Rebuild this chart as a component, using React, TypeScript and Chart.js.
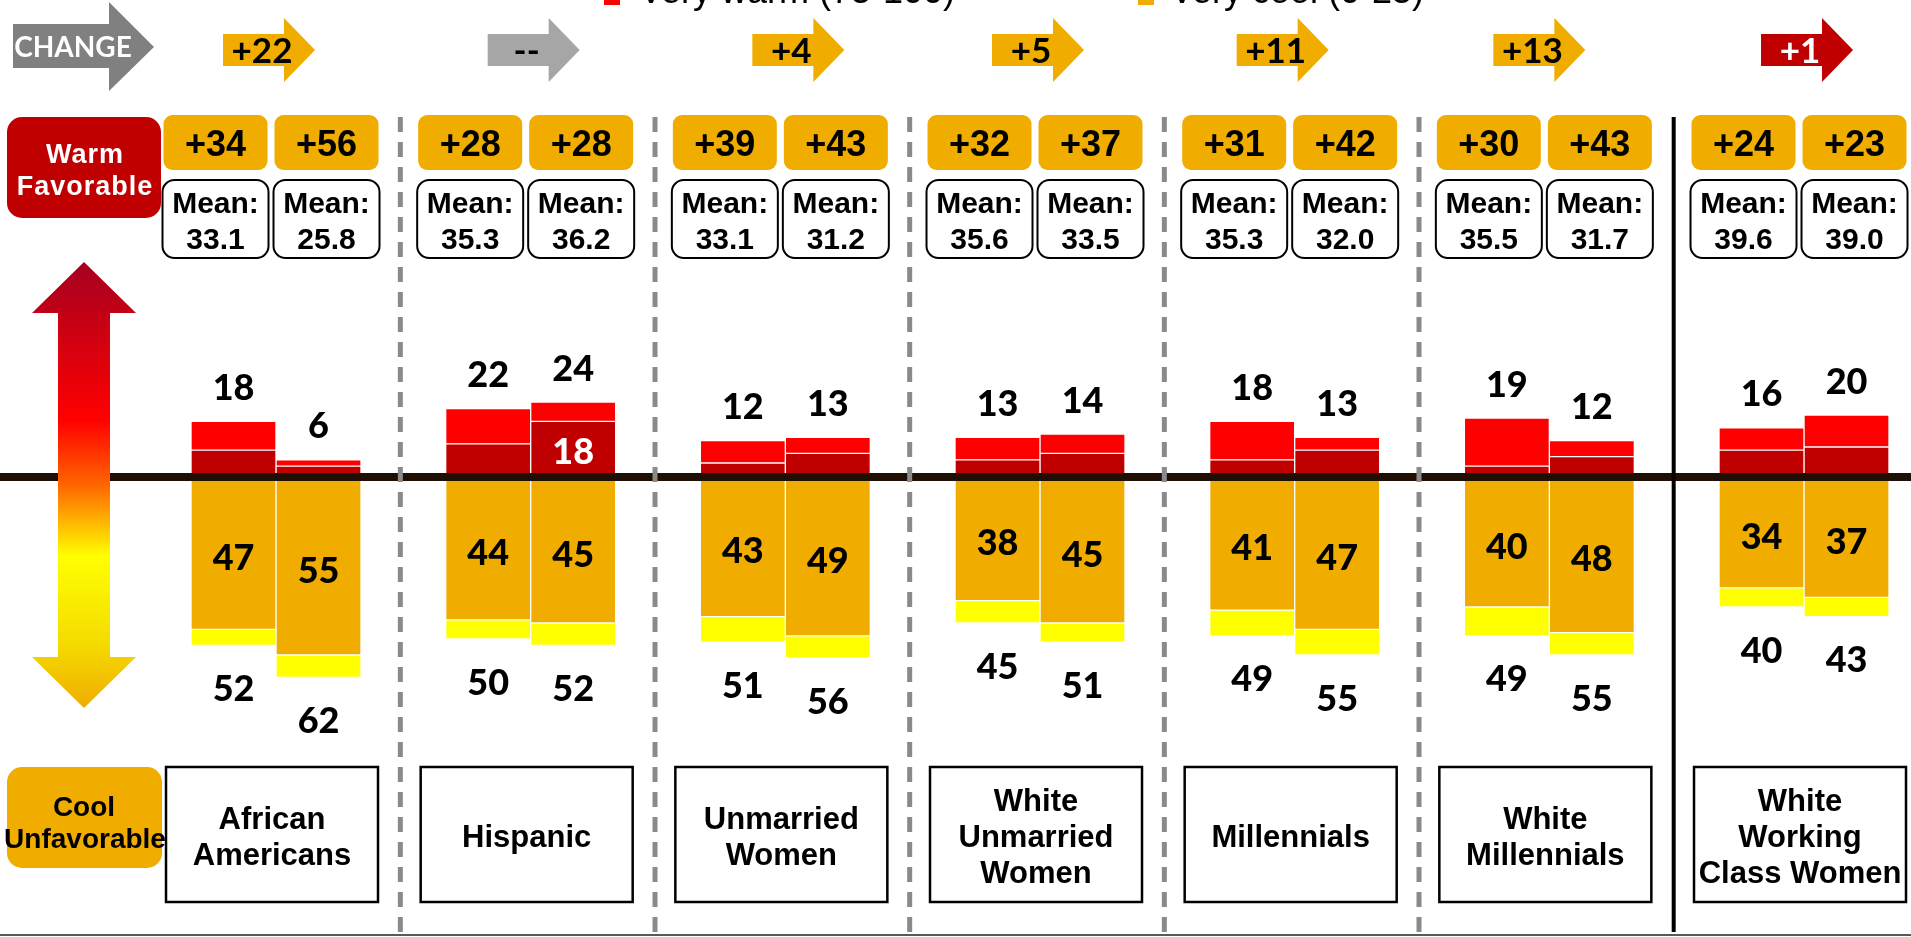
import React, { useEffect, useRef } from 'react';
import { Chart, registerables } from 'chart.js';

Chart.register(...registerables);

// ---------- data ----------
const groups = [
  'African\nAmericans',
  'Hispanic',
  'Unmarried\nWomen',
  'White\nUnmarried\nWomen',
  'Millennials',
  'White\nMillennials',
  'White\nWorking\nClass Women',
];
const changeLabels = ['+22', '--', '+4', '+5', '+11', '+13', '+1'];
const netA = ['+34', '+28', '+39', '+32', '+31', '+30', '+24'];
const netB = ['+56', '+28', '+43', '+37', '+42', '+43', '+23'];
const meanA = ['33.1', '35.3', '33.1', '35.6', '35.3', '35.5', '39.6'];
const meanB = ['25.8', '36.2', '31.2', '33.5', '32.0', '31.7', '39.0'];

const veryWarmA = [9, 11, 7, 7, 12, 15, 7];
const warmA = [9, 11, 5, 6, 6, 4, 9];
const coolA = [47, 44, 43, 38, 41, 40, 34];
const veryCoolA = [5, 6, 8, 7, 8, 9, 6];

const veryWarmB = [2, 6, 5, 6, 4, 5, 10];
const warmB = [4, 18, 8, 8, 9, 7, 10];
const coolB = [55, 45, 49, 45, 47, 48, 37];
const veryCoolB = [7, 7, 7, 6, 8, 7, 6];

const warmInsideLabelB = [false, true, false, false, false, false, false];
const legendLabels = ['Very warm (75-100)', 'Very cool (0-25)'];

// ---------- style ----------
const C_VERY_WARM = '#FF0000';
const C_WARM = '#C00000';
const C_COOL = '#F0AD00';
const C_VERY_COOL = '#FFFF00';
const changeColors = [C_COOL, '#A6A6A6', C_COOL, C_COOL, C_COOL, C_COOL, C_WARM];
const changeTextColors = ['#000', '#000', '#000', '#000', '#000', '#000', '#FFF'];
const changeArrowShift = [-53, -43, -33, -48, -58, -56, -43];

const ARIAL = '"Liberation Sans", Arial, sans-serif';
const LATO = 'Lato, "Open Sans", sans-serif';

function mk(label: string, vals: number[], sign: number, color: string, stack: string) {
  return {
    label,
    data: vals.map((v, i) => ({ x: i, y: sign * v })),
    backgroundColor: color,
    borderColor: '#FFFFFF',
    borderWidth: 1,
    borderSkipped: false,
    stack,
    barThickness: 85,
  };
}

function arrow(ctx: CanvasRenderingContext2D, x0: number, headX: number, tipX: number,
  bodyTop: number, bodyBot: number, headTop: number, headBot: number, tipY: number) {
  ctx.beginPath();
  ctx.moveTo(x0, bodyTop);
  ctx.lineTo(headX, bodyTop);
  ctx.lineTo(headX, headTop);
  ctx.lineTo(tipX, tipY);
  ctx.lineTo(headX, headBot);
  ctx.lineTo(headX, bodyBot);
  ctx.lineTo(x0, bodyBot);
  ctx.closePath();
  ctx.fill();
}

const decor = {
  id: 'decor',
  afterDraw(chart: any) {
    const ctx: CanvasRenderingContext2D = chart.ctx;
    const xs = chart.scales.x;
    const ys = chart.scales.y;
    const W = chart.width;
    const H = chart.height;
    const y0 = ys.getPixelForValue(0);
    const cx = (i: number) => xs.getPixelForValue(i);
    ctx.save();

    // zero line
    ctx.fillStyle = '#1F0E04';
    ctx.fillRect(0, y0 - 6, W, 8);

    // separators
    for (let i = 0; i < groups.length - 1; i++) {
      const x = (cx(i) + cx(i + 1)) / 2 - 3;
      ctx.beginPath();
      if (i === groups.length - 2) {
        ctx.setLineDash([]);
        ctx.strokeStyle = '#000000';
        ctx.lineWidth = 4;
        ctx.moveTo(x, 117);
        ctx.lineTo(x, 932);
      } else {
        ctx.setLineDash([15, 10]);
        ctx.strokeStyle = '#8A8A8A';
        ctx.lineWidth = 5;
        ctx.moveTo(x, 117);
        ctx.lineTo(x, H);
      }
      ctx.stroke();
    }
    ctx.setLineDash([]);

    // bottom rule
    ctx.fillStyle = '#595959';
    ctx.fillRect(0, H - 3, W, 2);

    // left gradient arrow
    const aTop = y0 - 217, aBot = y0 + 229;
    const g = ctx.createLinearGradient(0, aTop, 0, aBot);
    g.addColorStop(0, '#A50021');
    g.addColorStop(0.354, '#FF0000');
    g.addColorStop(0.5, '#FF6600');
    g.addColorStop(0.66, '#FFFF00');
    g.addColorStop(0.85, '#F5DC00');
    g.addColorStop(1, '#F0AD00');
    ctx.fillStyle = g;
    ctx.beginPath();
    ctx.moveTo(84, aTop);
    ctx.lineTo(136, aTop + 51);
    ctx.lineTo(110, aTop + 51);
    ctx.lineTo(110, aBot - 51);
    ctx.lineTo(136, aBot - 51);
    ctx.lineTo(84, aBot);
    ctx.lineTo(32, aBot - 51);
    ctx.lineTo(58, aBot - 51);
    ctx.lineTo(58, aTop + 51);
    ctx.lineTo(32, aTop + 51);
    ctx.closePath();
    ctx.fill();

    // Warm Favorable box
    ctx.fillStyle = C_WARM;
    ctx.beginPath();
    ctx.roundRect(7, 117, 154, 101, 15);
    ctx.fill();
    ctx.fillStyle = '#FFFFFF';
    ctx.font = `bold 27px ${ARIAL}`;
    ctx.textAlign = 'center';
    ctx.textBaseline = 'middle';
    (ctx as any).letterSpacing = '1px';
    ctx.fillText('Warm', 85, 156);
    ctx.fillText('Favorable', 85, 188);
    (ctx as any).letterSpacing = '0px';

    // Cool Unfavorable box
    ctx.fillStyle = C_COOL;
    ctx.beginPath();
    ctx.roundRect(7, 767, 155, 101, 15);
    ctx.fill();
    ctx.fillStyle = '#000000';
    ctx.font = `bold 28px ${ARIAL}`;
    ctx.fillText('Cool', 84, 808);
    ctx.fillText('Unfavorable', 85, 840);

    // CHANGE arrow
    ctx.fillStyle = '#808080';
    arrow(ctx, 13, 109, 154, 24, 68, 2, 91, 47);
    ctx.fillStyle = '#FFFFFF';
    ctx.font = `bold 28px ${LATO}`;
    ctx.fillText('CHANGE', 73, 48);

    // legend (cut at the top)
    ctx.font = `36px ${ARIAL}`;
    ctx.textAlign = 'left';
    ctx.textBaseline = 'alphabetic';
    ctx.fillStyle = C_VERY_WARM;
    ctx.fillRect(604, -12, 16, 17);
    ctx.fillStyle = '#000';
    ctx.fillText(legendLabels[0], 639, 3);
    ctx.fillStyle = C_COOL;
    ctx.fillRect(1138, -12, 16, 17);
    ctx.fillStyle = '#000';
    ctx.fillText(legendLabels[1], 1170, 3);

    ctx.textAlign = 'center';
    ctx.textBaseline = 'middle';

    for (let i = 0; i < groups.length; i++) {
      const c = cx(i);
      // change arrow
      const L = c + changeArrowShift[i];
      ctx.fillStyle = changeColors[i];
      arrow(ctx, L, L + 61, L + 92, 34, 66, 18, 82, 50);
      ctx.fillStyle = changeTextColors[i];
      ctx.font = `bold 35px ${LATO}`;
      ctx.fillText(changeLabels[i], L + 39, 52);

      // net pills and mean boxes
      const mid = c - 5;
      const centers = [mid - 55.5, mid + 55.5];
      const nets = [netA[i], netB[i]];
      const means = [meanA[i], meanB[i]];
      for (let k = 0; k < 2; k++) {
        ctx.fillStyle = C_COOL;
        ctx.beginPath();
        ctx.roundRect(centers[k] - 52, 115, 104, 55, 9);
        ctx.fill();
        ctx.fillStyle = '#000';
        ctx.font = `bold 36px ${ARIAL}`;
        ctx.fillText(nets[k], centers[k], 146);

        ctx.fillStyle = '#FFFFFF';
        ctx.strokeStyle = '#000';
        ctx.lineWidth = 2;
        ctx.beginPath();
        ctx.roundRect(centers[k] - 53, 180, 106, 78, 12);
        ctx.fill();
        ctx.stroke();
        ctx.fillStyle = '#000';
        ctx.font = `bold 30px ${ARIAL}`;
        ctx.fillText('Mean:', centers[k], 205);
        ctx.fillText(means[k], centers[k], 241);
      }

      // category box
      const bx = c - 4;
      ctx.fillStyle = '#FFFFFF';
      ctx.strokeStyle = '#000';
      ctx.lineWidth = 2.5;
      ctx.beginPath();
      ctx.rect(bx - 106, 767, 212, 135);
      ctx.fill();
      ctx.stroke();
      ctx.fillStyle = '#000';
      ctx.font = `bold 31px ${ARIAL}`;
      const lines = groups[i].split('\n');
      const lh = 36;
      lines.forEach((ln, j) => {
        ctx.fillText(ln, bx, 838 + (j - (lines.length - 1) / 2) * lh);
      });

      // bar labels
      const stacks = [
        { w: 0, vw: 1, c: 2, vc: 3, warm: warmA, vwarm: veryWarmA, cool: coolA, vcool: veryCoolA, inside: false },
        { w: 4, vw: 5, c: 6, vc: 7, warm: warmB, vwarm: veryWarmB, cool: coolB, vcool: veryCoolB, inside: warmInsideLabelB[i] },
      ];
      ctx.font = `900 36px ${LATO}`;
      for (const s of stacks) {
        const vwEl = chart.getDatasetMeta(s.vw).data[i];
        const wEl = chart.getDatasetMeta(s.w).data[i];
        const cEl = chart.getDatasetMeta(s.c).data[i];
        const vcEl = chart.getDatasetMeta(s.vc).data[i];
        const x = vwEl.x;
        ctx.fillStyle = '#000';
        ctx.fillText(String(s.warm[i] + s.vwarm[i]), x, vwEl.y - 33);
        ctx.fillText(String(s.cool[i]), x, (cEl.base + cEl.y) / 2 + 4);
        ctx.fillText(String(s.cool[i] + s.vcool[i]), x, vcEl.y + 44);
        if (s.inside) {
          ctx.fillStyle = '#FFFFFF';
          ctx.fillText(String(s.warm[i]), x, (wEl.base + wEl.y) / 2 + 2);
        }
      }
    }
    ctx.restore();
  },
};

export default function App() {
  const ref = useRef<HTMLCanvasElement>(null);
  useEffect(() => {
    const cfg: any = {
      type: 'bar',
      data: {
        datasets: [
          mk('Warm', warmA, 1, C_WARM, 'A'),
          mk(legendLabels[0], veryWarmA, 1, C_VERY_WARM, 'A'),
          mk('Cool', coolA, -1, C_COOL, 'A'),
          mk(legendLabels[1], veryCoolA, -1, C_VERY_COOL, 'A'),
          mk('Warm', warmB, 1, C_WARM, 'B'),
          mk(legendLabels[0], veryWarmB, 1, C_VERY_WARM, 'B'),
          mk('Cool', coolB, -1, C_COOL, 'B'),
          mk(legendLabels[1], veryCoolB, -1, C_VERY_COOL, 'B'),
        ],
      },
      options: {
        animation: false,
        responsive: false,
        events: [],
        layout: { padding: 0 },
        plugins: { legend: { display: false }, tooltip: { enabled: false } },
        scales: {
          x: { type: 'linear', min: -1.0838, max: 6.4201, display: false, stacked: true, offset: false },
          y: { type: 'linear', min: -143.125, max: 149.6875, display: false, stacked: true, offset: false },
        },
      },
      plugins: [decor],
    };
    const chart = new Chart(ref.current as HTMLCanvasElement, cfg);
    return () => chart.destroy();
  }, []);
  return (
    <div style={{ position: 'fixed', left: 0, top: 0, width: 1911, height: 937, background: '#FFFFFF', overflow: 'hidden' }}>
      <canvas ref={ref} width={1911} height={937} style={{ display: 'block', width: 1911, height: 937 }} />
    </div>
  );
}
